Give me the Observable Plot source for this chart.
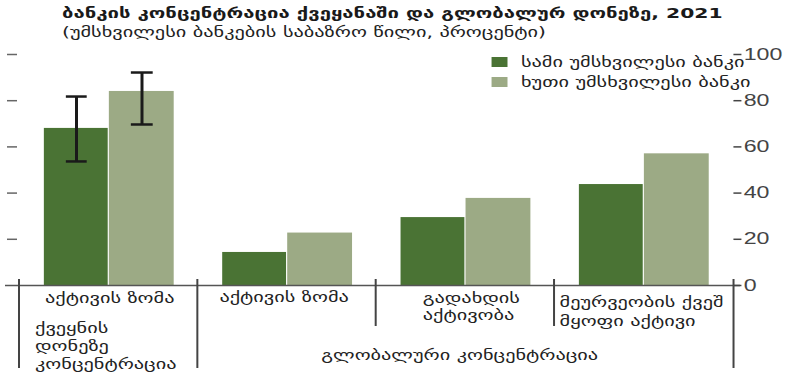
<!DOCTYPE html>
<html><head><meta charset="utf-8">
<script src="https://cdn.jsdelivr.net/npm/d3@7"></script>
<script src="https://cdn.jsdelivr.net/npm/@observablehq/plot@0.6"></script>
<style>
html,body{margin:0;padding:0;background:#fff;overflow:hidden;}
#wrap{position:relative;height:377px;transform-origin:0 0;font-family:"DejaVu Sans",sans-serif;color:#1a1a1a;}
#wrap svg{position:absolute;left:0;top:0;}
.title{position:absolute;font-weight:bold;font-size:14px;line-height:18px;white-space:nowrap;color:#1a1a1a;}
.subtitle{position:absolute;font-size:14px;line-height:16px;white-space:nowrap;color:#222;}
.legend{position:absolute;font-size:14px;color:#222;}
.legend .row{display:flex;align-items:center;height:20px;white-space:nowrap;}
.legend .sw{display:inline-block;height:10px;}
</style></head>
<body><div id="wrap"></div>
<script>
// ---- data ----
const titleText = "ბანკის კონცენტრაცია ქვეყანაში და გლობალურ დონეზე, 2021";
const subtitleText = "(უმსხვილესი ბანკების საბაზრო წილი, პროცენტი)";
const categories = ["ქვეყნის დონე / აქტივის ზომა", "გლობალური / აქტივის ზომა", "გლობალური / გადახდის აქტივობა", "გლობალური / მეურვეობის ქვეშ მყოფი აქტივი"];
const catLabels = ["აქტივის ზომა", "აქტივის ზომა", "გადახდის\nაქტივობა", "მეურვეობის ქვეშ\nმყოფი აქტივი"];
const groupLabels = ["ქვეყნის\nდონეზე\nკონცენტრაცია", "გლობალური კონცენტრაცია"];
const seriesNames = ["სამი უმსხვილესი ბანკი", "ხუთი უმსხვილესი ბანკი"];
const seriesColors = ["#4a7334", "#9caa85"];
const top3 = [68, 14.3, 29.4, 43.7];
const top5 = [84, 22.7, 37.7, 57];
const errCategories = [categories[0]];
const top3Low = [53.7], top3High = [81.8];
const top5Low = [69.7], top5High = [92.2];
const rightTicks = [0, 20, 40, 60, 80, 100];
const leftTicks = [20, 40, 60, 80, 100];

// ---- layout (horizontal stretch like the reference) ----
const S = 1.45, W = 790 / S;
const px = v => v / S;
const bw = (734 - 16) / 4;

const wrap = document.getElementById("wrap");
wrap.style.width = W + "px";
wrap.style.transform = `scaleX(${S})`;

const rows = categories.map((c, i) => ({cat: c, top3: top3[i], top5: top5[i], label: catLabels[i]}));
const errRows = errCategories.map((c, i) => ({cat: c, lo3: top3Low[i], hi3: top3High[i], lo5: top5Low[i], hi5: top5High[i]}));
const groupRows = [{cat: categories[0], label: groupLabels[0]}, {cat: categories[2], label: groupLabels[1]}];

const divStyle = {stroke: "#444", strokeWidth: px(2), insetTop: 225};
const errStroke = "#1a1a1a";
const lbl = {x: "cat", text: "label", frameAnchor: "bottom", fill: "#222", fontSize: 14};

const chart = Plot.plot({
  width: W, height: 377,
  marginTop: 54, marginBottom: 92, marginLeft: px(5), marginRight: px(50),
  x: {type: "band", domain: categories, range: [px(16), px(734)], padding: 0, axis: null},
  y: {domain: [0, 100], axis: null},
  style: {fontFamily: "DejaVu Sans, sans-serif", fontSize: "14px", color: "#222", background: "transparent", overflow: "visible"},
  marks: [
    Plot.barY(rows, {x: "cat", y: "top3", fill: seriesColors[0], insetLeft: px(25), insetRight: px(bw - 90)}),
    Plot.barY(rows, {x: "cat", y: "top5", fill: seriesColors[1], insetLeft: px(90), insetRight: px(bw - 156)}),
    Plot.ruleY([0], {stroke: "#555", strokeWidth: 1.6}),
    Plot.ruleY(leftTicks, {stroke: "#666", strokeWidth: 1.5, insetLeft: px(2), insetRight: px(740 - 17)}),
    Plot.axisY({anchor: "right", ticks: rightTicks, tickSize: px(8), dx: -px(8), tickPadding: px(3),
      fontSize: 16, fontFamily: "Liberation Sans, Arial, sans-serif", color: "#444", strokeWidth: 1.5}),
    // group dividers
    Plot.ruleX([categories[0], categories[1]], {...divStyle, dx: -px(bw / 2), insetBottom: -83}),
    Plot.ruleX([categories[3]], {...divStyle, dx: px(bw / 2), insetBottom: -83}),
    Plot.ruleX([categories[2], categories[3]], {...divStyle, dx: -px(bw / 2), insetBottom: -41}),
    // error bars
    Plot.ruleX(errRows, {x: "cat", y1: "lo3", y2: "hi3", dx: -px(32.25), stroke: errStroke, strokeWidth: px(3)}),
    Plot.tickY(errRows, {x: "cat", y: "hi3", insetLeft: px(47), insetRight: px(bw - 69), stroke: errStroke, strokeWidth: 2.5}),
    Plot.tickY(errRows, {x: "cat", y: "lo3", insetLeft: px(47), insetRight: px(bw - 69), stroke: errStroke, strokeWidth: 2.5}),
    Plot.ruleX(errRows, {x: "cat", y1: "lo5", y2: "hi5", dx: px(33.25), stroke: errStroke, strokeWidth: px(3)}),
    Plot.tickY(errRows, {x: "cat", y: "hi5", insetLeft: px(112), insetRight: px(bw - 135), stroke: errStroke, strokeWidth: 2.5}),
    Plot.tickY(errRows, {x: "cat", y: "lo5", insetLeft: px(112), insetRight: px(bw - 135), stroke: errStroke, strokeWidth: 2.5}),
    // category labels
    Plot.text(rows.slice(0, 1), {...lbl, dy: 18, dx: px(1)}),
    Plot.text(rows.slice(1, 2), {...lbl, dy: 17, dx: px(-3)}),
    Plot.text(rows.slice(2, 3), {...lbl, dy: 22 + 13, dx: px(422 - 464.75), textAnchor: "start", lineHeight: 1.22}),
    Plot.text(rows.slice(3, 4), {...lbl, dy: 26 + 15, dx: px(560 - 644.25), textAnchor: "start", lineHeight: 1.36}),
    // group labels
    Plot.text(groupRows.slice(0, 1), {...lbl, dy: 84, dx: px(32 - 105.75), textAnchor: "start", lineHeight: 1.3}),
    Plot.text(groupRows.slice(1, 2), {...lbl, dy: 75, dx: px(459 - 464.75)})
  ]
});
wrap.appendChild(chart);

// title & subtitle
const t = document.createElement("div");
t.className = "title"; t.textContent = titleText;
t.style.left = px(62) + "px"; t.style.top = "4px";
wrap.appendChild(t);
const st = document.createElement("div");
st.className = "subtitle"; st.textContent = subtitleText;
st.style.left = px(62) + "px"; st.style.top = "24px";
wrap.appendChild(st);

// legend
const lg = document.createElement("div");
lg.className = "legend";
lg.style.left = px(492) + "px"; lg.style.top = "52px";
seriesNames.forEach((name, i) => {
  const r = document.createElement("div"); r.className = "row";
  const sw = document.createElement("span"); sw.className = "sw";
  sw.style.width = px(16) + "px"; sw.style.background = seriesColors[i];
  sw.style.marginRight = px(13) + "px";
  const tx = document.createElement("span"); tx.textContent = name;
  r.appendChild(sw); r.appendChild(tx); lg.appendChild(r);
});
wrap.appendChild(lg);
</script>
</body></html>
